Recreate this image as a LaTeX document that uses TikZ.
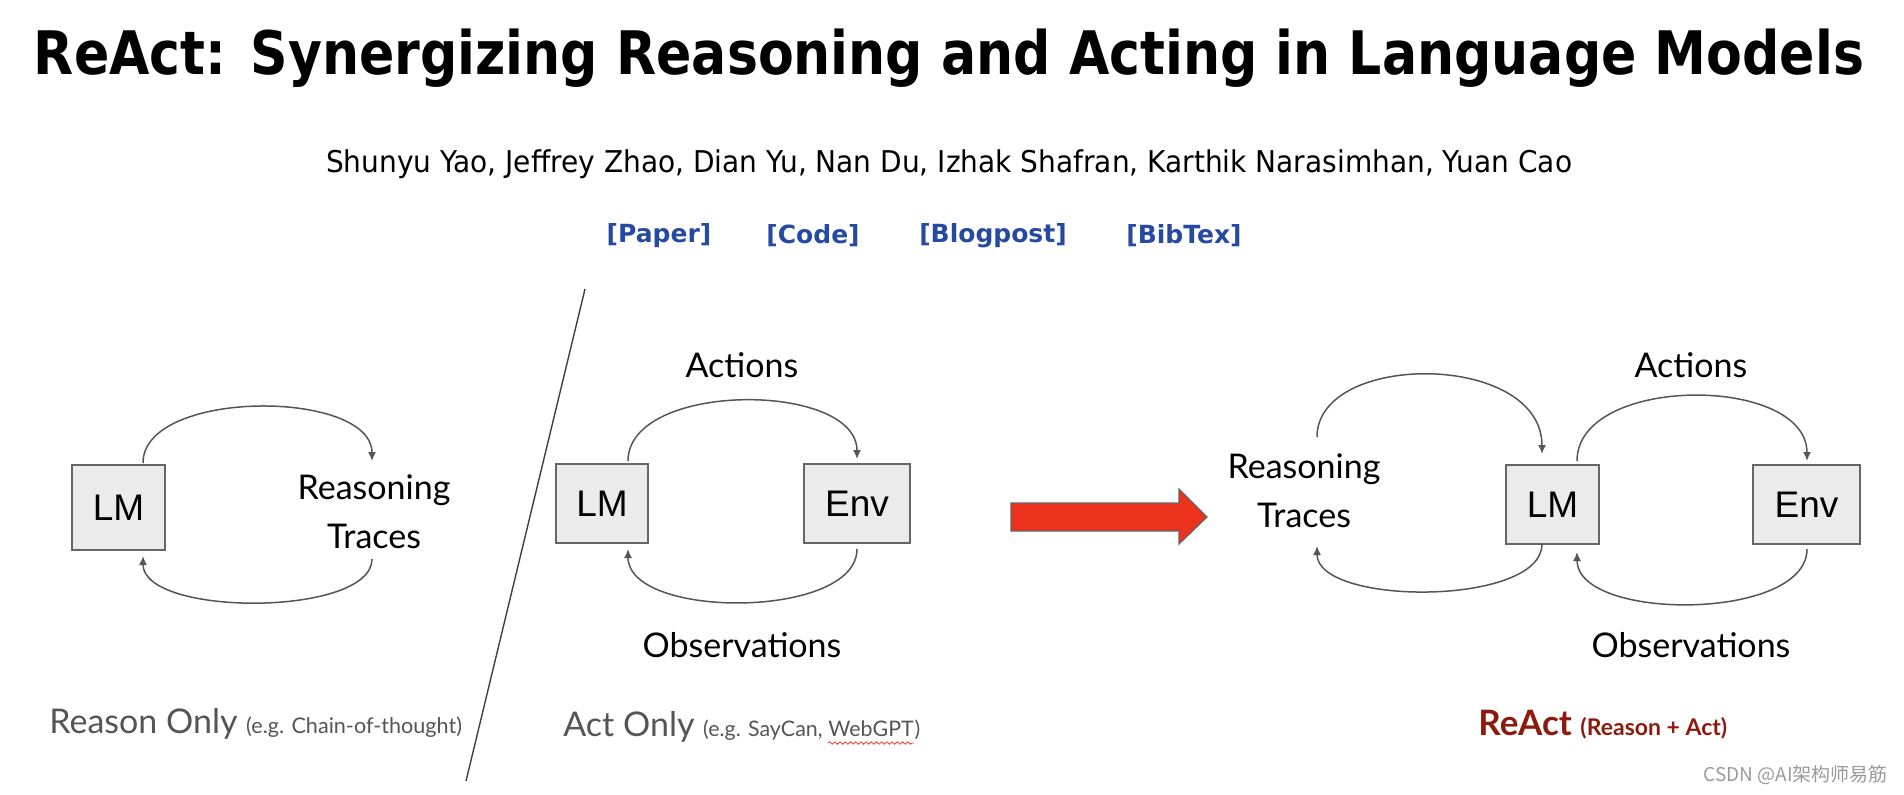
\documentclass[tikz,border=0pt]{standalone}
\usepackage{fontspec}
\usepackage{graphicx}
\usetikzlibrary{calc,arrows.meta,decorations.pathmorphing}
\setmainfont{DejaVu Sans}
\newfontfamily\lato{Lato}
\newfontfamily\arialf{Liberation Sans}
\newfontfamily\cjk{Noto Sans CJK SC}
\definecolor{boxfill}{HTML}{EBEBEB}
\definecolor{boxline}{HTML}{666666}
\definecolor{arcgray}{HTML}{555555}
\definecolor{textgray}{HTML}{555555}
\definecolor{linkblue}{RGB}{38,74,160}
\definecolor{reactred}{RGB}{140,26,14}
\definecolor{arrowred}{RGB}{234,50,28}
\definecolor{wmgray}{HTML}{9A9A9A}
\begin{document}
\begin{tikzpicture}[x=0.5pt,y=-0.5pt,
  box/.style={draw=boxline, fill=boxfill, line width=0.9pt, inner sep=0pt,
    font=\arialf\fontsize{18.5}{21}\selectfont},
  lbl/.style={font=\lato\fontsize{17}{24.5}\selectfont, align=center, inner sep=0pt},
  loopline/.style={draw=arcgray, line width=0.75pt, -{Latex[length=4.5pt,width=4pt]}},
  linknode/.style={font=\bfseries\fontsize{12.5}{15}\selectfont, text=linkblue, inner sep=0pt},
  caption/.style={anchor=base west, inner sep=0pt, text=textgray, font=\lato},
]
\useasboundingbox (0,0) rectangle (1904,794);

% header
\node[inner sep=0pt, anchor=base] (title) at (949,74)
  {\resizebox{915pt}{\height}{\bfseries\fontsize{30}{36}\selectfont ReAct: Synergizing Reasoning and Acting in Language Models}};
\node[inner sep=0pt, anchor=base] (authors) at (949,172)
  {\resizebox{623pt}{\height}{\fontsize{15}{18}\selectfont Shunyu Yao, Jeffrey Zhao, Dian Yu, Nan Du, Izhak Shafran, Karthik Narasimhan, Yuan Cao}};
\node[linknode] (paper) at (659,235.5) {[Paper]};
\node[linknode] (code) at (813,235.5) {[Code]};
\node[linknode] (blog) at (993,235.5) {[Blogpost]};
\node[linknode] (bib) at (1184,235.5) {[BibTex]};

% divider
\draw[draw=black!75, line width=0.7pt] (585,289) -- (466,781);

% ---- Reason only
\node[box, minimum width=46.5pt, minimum height=42.5pt] (lma) at (118.5,507.5) {LM};
\node[lbl] (rta) at (374,512) {Reasoning\\Traces};
\draw[loopline] ($(lma.center)+(24.5,-44.5)$) .. controls ($(lma.center)+(24.5,-119)$) and ($(rta.center)+(-2,-123)$) .. ($(rta.center)+(-2,-51)$);
\draw[loopline] ($(rta.center)+(-2,47)$) .. controls ($(rta.center)+(-2,105)$) and ($(lma.center)+(24.5,109.5)$) .. ($(lma.center)+(24.5,48.5)$);
\node[caption] (reasononly) at (49,733) {\fontsize{17}{20}\selectfont Reason Only {\fontsize{10.8}{13}\selectfont (e.g. Chain-of-thought)}};

% ---- Act only
\node[box, minimum width=46pt, minimum height=39.5pt] (lmb) at (602,503.5) {LM};
\node[box, minimum width=53pt, minimum height=39.5pt] (envb) at (857,503.5) {Env};
\node[lbl] (actb) at (742,365) {Actions};
\node[lbl] (obsb) at (742,645) {Observations};
\draw[loopline] ($(lmb.center)+(26,-42.5)$) .. controls ($(lmb.center)+(26,-122.5)$) and ($(envb.center)+(0,-122.5)$) .. ($(envb.center)+(0,-44.5)$);
\draw[loopline] ($(envb.center)+(0,45.5)$) .. controls ($(envb.center)+(0,116)$) and ($(lmb.center)+(26,116)$) .. ($(lmb.center)+(26,45.5)$);
\node[caption] (actonly) at (563,736) {\fontsize{17}{20}\selectfont Act Only {\fontsize{10.7}{13}\selectfont (e.g. SayCan,}};
\node[caption, anchor=base west, font=\lato\fontsize{10.7}{13}\selectfont] (webgpt) at ($(actonly.base east)+(5,0)$) {WebGPT};
\node[caption, anchor=base west, font=\lato\fontsize{10.7}{13}\selectfont] (actclose) at (webgpt.base east) {)};
\draw[red!80, line width=0.4pt, decorate, decoration={snake, amplitude=0.6pt, segment length=2.6pt}]
  ($(webgpt.base west)+(0,7)$) -- ($(webgpt.base east)+(0,7)$);

% ---- big arrow
\draw[fill=arrowred, draw=boxline, line width=0.6pt, line join=miter]
  (1011,503) -- (1179,503) -- (1179,489) -- (1207,517) -- (1179,544) -- (1179,531) -- (1011,531) -- cycle;

% ---- ReAct
\node[lbl] (rtc) at (1304,491) {Reasoning\\Traces};
\node[box, minimum width=46.5pt, minimum height=39.5pt] (lmc) at (1552.5,504.5) {LM};
\node[box, minimum width=53.5pt, minimum height=39.5pt] (envc) at (1806.5,504.5) {Env};
\node[lbl] (actc) at (1691,365) {Actions};
\node[lbl] (obsc) at (1691,645) {Observations};
\draw[loopline] ($(rtc.center)+(13,-54)$) .. controls ($(rtc.center)+(13,-140)$) and ($(lmc.center)+(-10.5,-153)$) .. ($(lmc.center)+(-10.5,-50.5)$);
\draw[loopline] ($(lmc.center)+(-10.5,39.5)$) .. controls ($(lmc.center)+(-10.5,102)$) and ($(rtc.center)+(13,115)$) .. ($(rtc.center)+(13,55)$);
\draw[loopline] ($(lmc.center)+(24.5,-43.5)$) .. controls ($(lmc.center)+(24.5,-130)$) and ($(envc.center)+(0.5,-130)$) .. ($(envc.center)+(0.5,-43.5)$);
\draw[loopline] ($(envc.center)+(0.5,44.5)$) .. controls ($(envc.center)+(0.5,117)$) and ($(lmc.center)+(24.5,117)$) .. ($(lmc.center)+(24.5,47.5)$);
\node[caption, text=reactred, font=\lato\bfseries] (react) at (1478,735) {\fontsize{17.5}{20}\selectfont ReAct {\fontsize{11.5}{13}\selectfont (Reason + Act)}};

% watermark
\node[anchor=east, inner sep=0pt, text=wmgray, font=\cjk\fontsize{9.5}{11}\selectfont] (wm) at (1888,775) {CSDN @AI架构师易筋};
\end{tikzpicture}
\end{document}
